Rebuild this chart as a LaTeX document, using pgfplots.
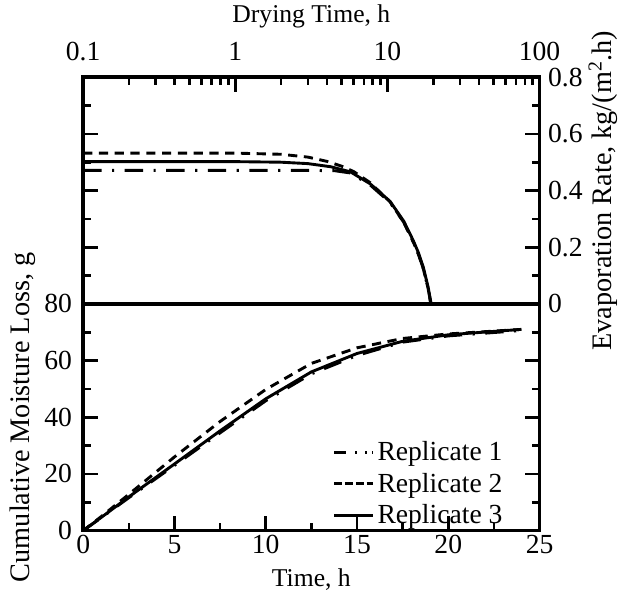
\documentclass[border=0pt]{standalone}
\usepackage{pgfplots}
\pgfplotsset{compat=1.18}
\usepackage{fontspec}
\setmainfont{Liberation Serif}
\newcommand{\ft}{\fontsize{21}{24}\selectfont}
\newcommand{\fx}{\fontsize{19.5}{23}\selectfont}
\newcommand{\fy}{\fontsize{21.5}{24}\selectfont}
\pgfplotsset{
  common/.style={
    scale only axis, width=347.25pt, height=172.5pt,
    axis line style={line width=2.8pt},
    every tick/.style={black, line width=2pt},
    major tick length=11pt, minor tick length=6pt,
    tick align=inside,
    /pgf/number format/assume math mode=true,
    tick label style={font=\ft},
    clip=true,
  },
  r1/.style={black, line width=2.2pt, dash pattern=on 14pt off 8pt on 1.6pt off 8pt},
  r2/.style={black, line width=2.2pt, dash pattern=on 7pt off 5pt},
  r3/.style={black, line width=2.2pt},
}
\begin{document}
\begin{tikzpicture}
% bottom axis: cumulative moisture loss
\begin{axis}[common, at={(0,0)}, anchor=south west,
  xmin=0, xmax=25, ymin=0, ymax=80,
  xtick={0,5,...,25}, minor x tick num=1,
  ytick={0,20,...,80}, minor y tick num=1,
  xtick pos=bottom, ytick pos=both, yticklabel pos=left,
  yticklabel style={xshift=-5pt},
  xlabel={Time, h}, ylabel={Cumulative Moisture Loss, g},
  xlabel style={font=\fx, inner ysep=2pt, yshift=-6pt},
  ylabel style={font=\fy},
  legend style={at={(0.925,0.008)}, anchor=south east, draw=none, fill=none,
    font=\ft, row sep=4pt, inner sep=0pt},
  legend cell align=left,
  legend image code/.code={\draw[#1] (0pt,0pt) -- (30pt,0pt);},
]
\addplot[r1, forget plot] coordinates {(0,0) (1,4.6) (2.5,11.6) (5,23) (7.5,34.5) (10,45.8) (12.5,55.3) (15,61.8) (17.5,66.5) (20,68.7) (22.5,69.9) (24,70.6)};
\addplot[r2, forget plot] coordinates {(0,0) (1,5.0) (2.5,12.8) (5,26) (7.5,38.5) (10,49.8) (12.5,59) (15,64.5) (17.5,67.8) (20,69.4) (22.5,70.4) (24,71)};
\addplot[r3, forget plot] coordinates {(0,0) (1,4.7) (2.5,11.9) (5,23.5) (7.5,35.2) (10,46.5) (12.5,56) (15,62.5) (17.5,66.8) (20,69.1) (22.5,70.3) (24,71)};
\addlegendimage{black, line width=2.2pt, dash pattern=on 9pt off 7pt on 1.6pt off 6pt on 1.6pt off 4pt}
\addlegendentry{Replicate 1}
\addlegendimage{r2, dash pattern=on 6pt off 2.3pt}
\addlegendentry{Replicate 2}
\addlegendimage{r3}
\addlegendentry{Replicate 3}
\end{axis}
% top axis: evaporation rate
\begin{axis}[common, at={(0,172.5pt)}, anchor=south west,
  xmode=log, xmin=0.1, xmax=100, ymin=0, ymax=0.8,
  xtick={0.1,1,10,100}, xticklabels={0.1,1,10,100},
  minor xtick={0.2,0.3,0.4,0.5,0.6,0.7,0.8,0.9,2,3,4,5,6,7,8,9,20,30,40,50,60,70,80,90},
  ytick={0,0.2,...,0.8}, minor y tick num=1,
  yticklabel style={/pgf/number format/fixed, /pgf/number format/precision=1, xshift=3pt},
  xtick pos=top, xticklabel pos=top, ytick pos=both, yticklabel pos=right,
  xlabel near ticks, ylabel near ticks,
  xlabel={Drying Time, h}, ylabel={Evaporation Rate, kg/(m\textsuperscript{2}.h)},
  xlabel style={font=\fx, yshift=4pt}, ylabel style={font=\fy, inner sep=1pt},
  ylabel shift=0pt,
  xticklabel style={yshift=9pt},
]
\addplot[r1] coordinates {(0.1,0.471) (1,0.471) (3,0.471) (4.5,0.47) (5.7,0.462) (7.69,0.42) (10.4,0.358) (12.8,0.288) (14.8,0.218) (16,0.175) (17.2,0.125) (18.5,0.055) (19.3,0)};
\addplot[r2] coordinates {(0.1,0.532) (1,0.532) (2,0.528) (3,0.518) (4,0.503) (5,0.486) (6,0.467) (7.69,0.428) (10.4,0.36) (12.8,0.288) (14.8,0.218) (16,0.175) (17.2,0.125) (18.5,0.055) (19.3,0)};
\addplot[r3] coordinates {(0.1,0.502) (1,0.502) (2,0.5) (3,0.495) (4.24,0.484) (5.71,0.466) (7.69,0.424) (10.4,0.362) (12.8,0.292) (14.8,0.223) (16,0.18) (17.2,0.13) (18.5,0.06) (19.4,0)};
\end{axis}
\path (current bounding box.south west) ++(-4pt,0pt);
\end{tikzpicture}
\end{document}
